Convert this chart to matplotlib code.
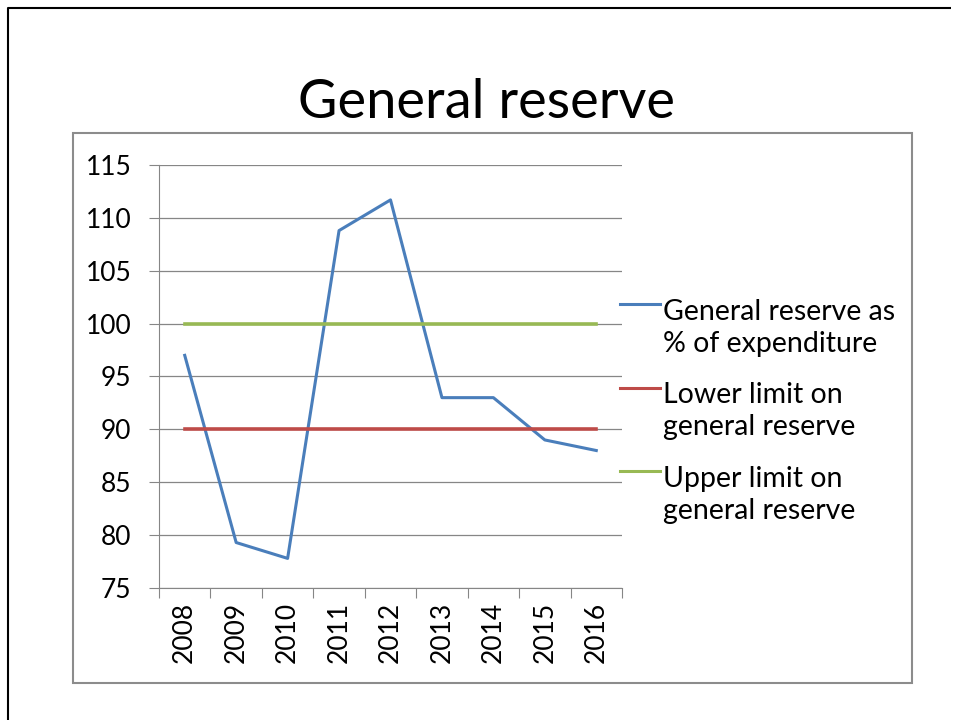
import matplotlib
matplotlib.use("Agg")
import matplotlib.pyplot as plt
from matplotlib.patches import Rectangle
from matplotlib.lines import Line2D

plt.rcParams['font.family'] = ['Lato', 'DejaVu Sans']

years = ['2008', '2009', '2010', '2011', '2012', '2013', '2014', '2015', '2016']
reserve_pct = [97.0, 79.3, 77.8, 108.8, 111.7, 93.0, 93.0, 89.0, 88.0]
lower_limit = [90] * len(years)
upper_limit = [100] * len(years)

series_labels = ['General reserve as\n% of expenditure',
                 'Lower limit on\ngeneral reserve',
                 'Upper limit on\ngeneral reserve']
series_colors = ['#4A7EBB', '#BE4B48', '#98B954']

W, H = 954, 720
fig = plt.figure(figsize=(W / 100, H / 100), dpi=100)

# slide border: left and top edges
fig.add_artist(Line2D([8 / W, 8 / W, 951 / W], [0, 1 - 8 / H, 1 - 8 / H], color='black',
                      linewidth=1.5, solid_capstyle='butt', transform=fig.transFigure))
# chart frame
fig.add_artist(Rectangle((73 / W, 1 - 683 / H), (912 - 73) / W, (683 - 133) / H,
                         transform=fig.transFigure, fill=False, edgecolor='#8c8c8c', linewidth=1.5))

fig.text(487 / W, 1 - 102 / H, 'General reserve', ha='center', va='center', fontsize=39)

ax = fig.add_axes([159 / W, 1 - 588 / H, (622 - 159) / W, (588 - 165) / H])
x = range(len(years))
ax.plot(x, reserve_pct, color=series_colors[0], linewidth=2.2)
ax.plot(x, lower_limit, color=series_colors[1], linewidth=2.6)
ax.plot(x, upper_limit, color=series_colors[2], linewidth=2.6)

ax.set_xlim(-0.5, len(years) - 0.5)
ax.set_ylim(75, 115)
ax.set_yticks(range(75, 116, 5))
ax.set_xticks([i - 0.5 for i in range(len(years) + 1)])
ax.set_xticklabels([])
ax.set_xticks(list(x), minor=True)
ax.set_xticklabels(years, minor=True, rotation=90, fontsize=19)
ax.tick_params(axis='x', which='minor', length=0, pad=10)
ax.tick_params(axis='x', which='major', length=7, color='#868686')
ax.tick_params(axis='y', length=7, color='#868686', labelsize=19, pad=13)
ax.grid(axis='y', color='#868686', linewidth=0.9)
ax.set_axisbelow(True)
for s in ['top', 'right']:
    ax.spines[s].set_visible(False)
for s in ['left', 'bottom']:
    ax.spines[s].set_color('#868686')

# legend, Excel style: handle level with the first line of each entry
for i, (label, color) in enumerate(zip(series_labels, series_colors)):
    base = 315 + i * 83.5  # baseline of first line
    fig.text(663 / W, 1 - (base + 37) / H, label, ha='left', va='baseline',
             fontsize=20.5, linespacing=1.3, transform=fig.transFigure)
    fig.add_artist(Line2D([620 / W, 660 / W], [1 - (base - 11) / H] * 2,
                          color=color, linewidth=2.2, transform=fig.transFigure))

fig.savefig('out.png', dpi=100)
